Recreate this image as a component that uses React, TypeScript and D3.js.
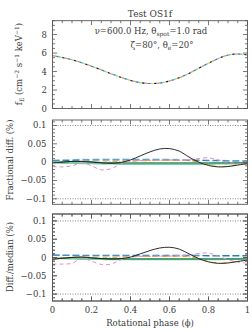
import React from 'react';
import * as d3 from 'd3';

// rotational phase grid
const phase = [0, 0.05, 0.1, 0.15, 0.2, 0.25, 0.3, 0.35, 0.4, 0.45, 0.5, 0.55, 0.6, 0.65, 0.7, 0.75, 0.8, 0.85, 0.9, 0.95, 1];

// top panel: flux
const flux = [5.72, 5.52, 5.27, 4.95, 4.58, 4.18, 3.77, 3.38, 3.04, 2.8, 2.7, 2.76, 2.98, 3.33, 3.8, 4.35, 4.9, 5.4, 5.78, 5.9, 5.79];

// fractional diff (%)
const fracBlack = [-0.002, 0.0, 0.002, 0.002, 0.0, -0.002, -0.003, -0.001, 0.006, 0.017, 0.028, 0.036, 0.037, 0.03, 0.014, 0.0, -0.009, -0.013, -0.012, -0.008, -0.004];
const fracBlue = [0.005, 0.005, 0.005, 0.006, 0.006, 0.006, 0.006, 0.006, 0.006, 0.006, 0.006, 0.006, 0.006, 0.005, 0.005, 0.005, 0.004, 0.004, 0.003, 0.003, 0.003];
const fracLightBlue = [0.004, 0.005, 0.006, 0.007, 0.007, 0.008, 0.008, 0.008, 0.008, 0.008, 0.008, 0.008, 0.007, 0.007, 0.006, 0.006, 0.005, 0.005, 0.004, 0.004, 0.004];
const fracTeal = [-0.001, -0.002, -0.002, -0.003, -0.003, -0.004, -0.004, -0.005, -0.005, -0.005, -0.005, -0.005, -0.005, -0.005, -0.005, -0.005, -0.005, -0.004, -0.004, -0.003, -0.002];
const fracGreen = [-0.001, 0.001, 0.002, 0.002, 0.001, -0.001, -0.002, -0.002, -0.002, -0.002, -0.002, -0.002, -0.002, -0.002, -0.002, -0.002, -0.002, -0.002, -0.002, -0.002, -0.002];
const fracOrange = [-0.002, 0.0, 0.001, 0.001, 0.0, 0.0, 0.001, 0.002, 0.003, 0.004, 0.004, 0.005, 0.005, 0.005, 0.004, 0.0, -0.008, -0.012, -0.011, -0.007, -0.003];
const fracPink = [-0.012, -0.013, -0.01, -0.002, -0.01, -0.021, -0.018, -0.005, 0.002, 0.004, 0.005, 0.005, 0.006, 0.005, 0.006, 0.01, 0.012, 0.006, -0.001, -0.004, -0.006];

// diff / median (%)
const medBlack = [-0.005, -0.002, 0.0, 0.001, -0.001, -0.003, -0.004, -0.003, 0.001, 0.01, 0.019, 0.026, 0.028, 0.023, 0.01, -0.003, -0.012, -0.016, -0.015, -0.011, -0.007];
const medBlue = [0.006, 0.006, 0.006, 0.006, 0.006, 0.006, 0.006, 0.006, 0.006, 0.006, 0.006, 0.006, 0.006, 0.006, 0.006, 0.006, 0.005, 0.005, 0.005, 0.005, 0.005];
const medLightBlue = [0.008, 0.007, 0.006, 0.005, 0.004, 0.004, 0.004, 0.004, 0.004, 0.004, 0.004, 0.004, 0.004, 0.004, 0.004, 0.004, 0.004, 0.004, 0.004, 0.004, 0.004];
const medTeal = [-0.002, -0.002, -0.003, -0.004, -0.004, -0.004, -0.005, -0.005, -0.005, -0.005, -0.005, -0.005, -0.005, -0.005, -0.005, -0.005, -0.005, -0.005, -0.004, -0.004, -0.003];
const medGreen = [-0.004, -0.002, 0.0, 0.001, -0.001, -0.003, -0.004, -0.004, -0.004, -0.004, -0.004, -0.004, -0.004, -0.004, -0.004, -0.004, -0.004, -0.004, -0.004, -0.004, -0.004];
const medOrange = [-0.004, -0.001, 0.001, 0.001, 0.0, -0.001, 0.0, 0.001, 0.002, 0.003, 0.003, 0.003, 0.003, 0.003, 0.002, -0.003, -0.011, -0.015, -0.014, -0.01, -0.006];
const medPink = [-0.018, -0.018, -0.016, -0.002, -0.01, -0.019, -0.018, -0.006, 0.001, 0.003, 0.003, 0.004, 0.004, 0.005, 0.007, 0.011, 0.012, 0.004, -0.006, -0.012, -0.016];

const xTicks = [0, 0.2, 0.4, 0.6, 0.8, 1];
const xTickLabels = ['0', '0.2', '0.4', '0.6', '0.8', '1'];
const fluxTicks = [0, 2, 4, 6, 8];
const diffTicks = [-0.1, -0.05, 0, 0.05, 0.1];
const diffTickLabels = ['\u22120.1', '\u22120.05', '0', '0.05', '0.1'];

const FONT = '"DejaVu Serif", serif';
const FRAME = '#555';
const TEXT = '#3a3a3a';
const left = 52.5;
const right = 247.5;

const x = d3.scaleLinear().domain([0, 1]).range([left, right]);

const styles = [
  { key: 'teal', color: '#6fd0ad', width: 2, dash: null },
  { key: 'green', color: '#1d6b3c', width: 1, dash: null },
  { key: 'lightblue', color: '#9ccbea', width: 1.6, dash: '7,3' },
  { key: 'blue', color: '#2a7ab8', width: 1.1, dash: '7,3' },
  { key: 'orange', color: '#e9a21a', width: 1, dash: '5,2,1,2' },
  { key: 'pink', color: '#e48cc6', width: 1, dash: '4,3' },
  { key: 'black', color: '#151515', width: 0.9, dash: null },
];

type Panel = {
  top: number;
  bottom: number;
  domain: [number, number];
  major: number[];
  minorStep: number;
};

const Frame = ({ p, y, showX }: { p: Panel; y: d3.ScaleLinear<number, number>; showX: boolean }) => {
  const xMinor = d3.range(0, 1.0001, 0.05);
  const yMinor = d3.range(
    Math.ceil(p.domain[0] / p.minorStep) * p.minorStep,
    p.domain[1] + 1e-9,
    p.minorStep
  );
  const ticks: JSX.Element[] = [];
  xMinor.forEach((v, i) => {
    const isMajor = xTicks.some((t) => Math.abs(t - v) < 1e-6);
    const len = isMajor ? 4.5 : 2.5;
    ticks.push(<line key={'xb' + i} x1={x(v)} x2={x(v)} y1={p.bottom} y2={p.bottom - len} />);
    ticks.push(<line key={'xt' + i} x1={x(v)} x2={x(v)} y1={p.top} y2={p.top + len} />);
  });
  yMinor.forEach((v, i) => {
    const isMajor = p.major.some((t) => Math.abs(t - v) < 1e-6);
    const len = isMajor ? 4.5 : 2.5;
    ticks.push(<line key={'yl' + i} x1={left} x2={left + len} y1={y(v)} y2={y(v)} />);
    ticks.push(<line key={'yr' + i} x1={right} x2={right - len} y1={y(v)} y2={y(v)} />);
  });
  return (
    <g>
      <g stroke={FRAME} strokeWidth={0.8}>{ticks}</g>
      <rect x={left} y={p.top} width={right - left} height={p.bottom - p.top} fill="none" stroke={FRAME} strokeWidth={0.9} />
      {showX &&
        xTicks.map((t, i) => (
          <text key={'xl' + i} x={x(t)} y={p.bottom + 11.5} textAnchor="middle" fontSize={8.5} fontFamily={FONT} fill={TEXT}>
            {xTickLabels[i]}
          </text>
        ))}
    </g>
  );
};

const DiffPanel = ({ p, series, label, labelY }: { p: Panel; series: number[][]; label: string; labelY: number }) => {
  const y = d3.scaleLinear().domain(p.domain).range([p.bottom, p.top]);
  const line = d3
    .line<number>()
    .x((_, i) => x(phase[i]))
    .y((d) => y(d))
    .curve(d3.curveCatmullRom);
  return (
    <g>
      {[-0.1, 0.1].map((v) => (
        <line key={v} x1={left} x2={right} y1={y(v)} y2={y(v)} stroke="#666" strokeWidth={0.8} strokeDasharray="1,1.5" />
      ))}
      {styles.map((s, i) => (
        <path
          key={s.key}
          d={line(series[i]) || ''}
          fill="none"
          stroke={s.color}
          strokeWidth={s.width}
          strokeDasharray={s.dash || undefined}
        />
      ))}
      <Frame p={p} y={y} showX={false} />
      {diffTicks.map((t, i) => (
        <text key={i} x={46.5} y={y(t) + 3} textAnchor="end" fontSize={8.5} fontFamily={FONT} fill={TEXT}>
          {diffTickLabels[i]}
        </text>
      ))}
      <text
        transform={`translate(12.5,${labelY}) rotate(-90)`}
        textAnchor="middle"
        fontSize={8.5}
        fontFamily={FONT}
        fill={TEXT}
      >
        {label}
      </text>
    </g>
  );
};

const App = () => {
  const p1: Panel = { top: 20.7, bottom: 108.5, domain: [0, 9.5], major: fluxTicks, minorStep: 0.5 };
  const p2: Panel = { top: 120, bottom: 204.3, domain: [-0.115, 0.115], major: diffTicks, minorStep: 0.01 };
  const p3: Panel = { top: 214, bottom: 301, domain: [-0.119, 0.119], major: diffTicks, minorStep: 0.01 };
  const y1 = d3.scaleLinear().domain(p1.domain).range([p1.bottom, p1.top]);
  const fluxLine = d3
    .line<number>()
    .x((_, i) => x(phase[i]))
    .y((d) => y1(d))
    .curve(d3.curveCatmullRom);
  const fluxPath = fluxLine(flux) || '';
  const topColors = ['#e48cc6', '#e9a21a', '#2a7ab8', '#6fd0ad', '#f0e040', '#151515'];

  return (
    <svg width={252} height={332} style={{ position: 'absolute', left: 0, top: 0, background: '#fff' }}>
      <text x={150} y={17} textAnchor="middle" fontSize={9} fontFamily={FONT} fill={TEXT}>
        Test OS1f
      </text>
      {/* top panel */}
      <path d={fluxPath} fill="none" stroke="#9ccbea" strokeWidth={1.1} />
      {topColors.map((c, i) => (
        <path
          key={c}
          d={fluxPath}
          fill="none"
          stroke={c}
          strokeWidth={1.1}
          strokeDasharray={`2,${2 * (topColors.length - 1)}`}
          strokeDashoffset={-2 * i}
        />
      ))}
      <Frame p={p1} y={y1} showX={false} />
      {fluxTicks.map((t) => (
        <text key={t} x={47} y={y1(t) + 3} textAnchor="end" fontSize={8.5} fontFamily={FONT} fill={TEXT}>
          {t}
        </text>
      ))}
      <text x={151} y={34} textAnchor="middle" fontSize={8.5} fontFamily={FONT} fill={TEXT}>
        {'\u03bd=600.0 Hz, \u03b8'}
        <tspan fontSize={6} dy={2}>spot</tspan>
        <tspan dy={-2}>=1.0 rad</tspan>
      </text>
      <text x={162} y={47.5} textAnchor="middle" fontSize={8.5} fontFamily={FONT} fill={TEXT}>
        {'\u03b6=80\u00b0, \u03b8'}
        <tspan fontSize={6} dy={2}>e</tspan>
        <tspan dy={-2}>{'=20\u00b0'}</tspan>
      </text>
      <text transform="translate(21.5,64) rotate(-90)" textAnchor="middle" fontSize={8.5} fontFamily={FONT} fill={TEXT}>
        f<tspan fontSize={6} dy={2}>E</tspan>
        <tspan dy={-2}> (cm</tspan>
        <tspan fontSize={6} dy={-3}>{'\u22122'}</tspan>
        <tspan dy={3}> s</tspan>
        <tspan fontSize={6} dy={-3}>{'\u22121'}</tspan>
        <tspan dy={3}> keV</tspan>
        <tspan fontSize={6} dy={-3}>{'\u22121'}</tspan>
        <tspan dy={3}>)</tspan>
      </text>

      <DiffPanel
        p={p2}
        series={[fracTeal, fracGreen, fracLightBlue, fracBlue, fracOrange, fracPink, fracBlack]}
        label="Fractional diff. (%)"
        labelY={160}
      />
      <DiffPanel
        p={p3}
        series={[medTeal, medGreen, medLightBlue, medBlue, medOrange, medPink, medBlack]}
        label="Diff./median (%)"
        labelY={257}
      />
      <Frame p={p3} y={d3.scaleLinear().domain(p3.domain).range([p3.bottom, p3.top])} showX={true} />
      <text x={150} y={326} textAnchor="middle" fontSize={8.5} fontFamily={FONT} fill={TEXT}>
        Rotational phase ({'\u03d5'})
      </text>
    </svg>
  );
};

export default App;
